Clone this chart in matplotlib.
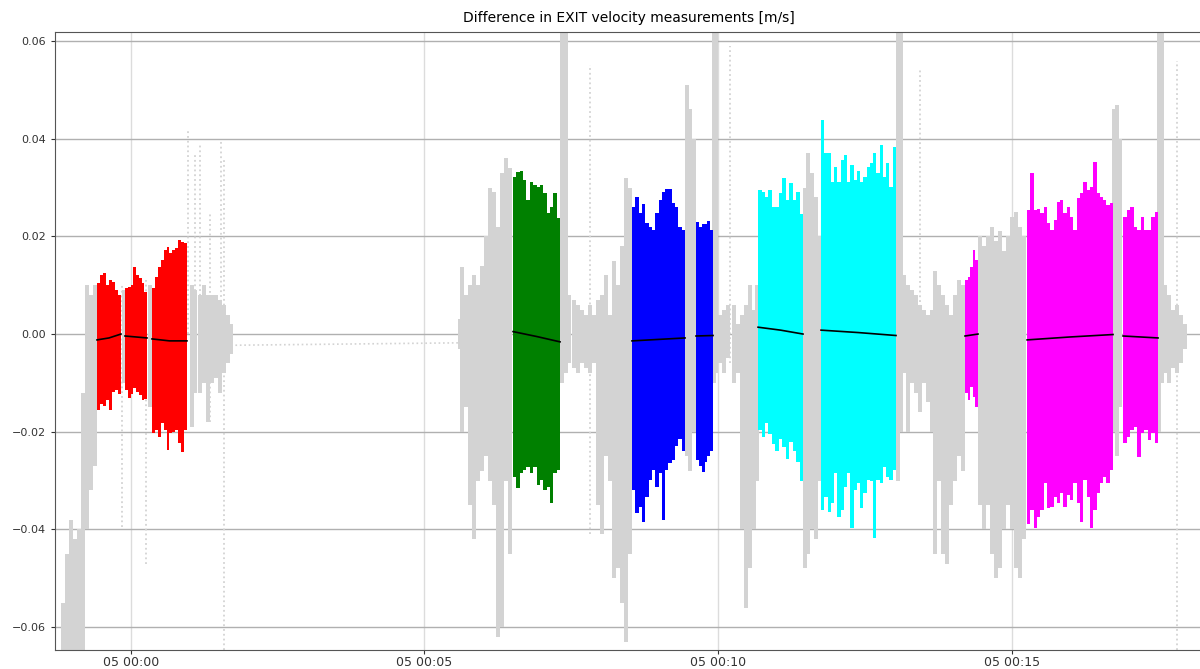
import numpy as np
import pandas as pd
import matplotlib
matplotlib.use('Agg')
import matplotlib.pyplot as plt
import matplotlib.dates as mdates

# time origin of the record (tick labels read "05 HH:MM")
T0 = pd.Timestamp('2020-01-05 00:00:00')

# ---- coloured measurement windows: (start s, end s), envelope top/bottom, mean line
red1_span = (-34.4, -9.9)
red1_top = [0.0104, 0.0121, 0.0125, 0.0100, 0.0110, 0.0106, 0.0090, 0.0080]
red1_bot = [-0.0156, -0.0143, -0.0147, -0.0136, -0.0156, -0.0118, -0.0115, -0.0122]
red1_mean = [-0.0012, -0.0008, 0.0000]

red2_span = (-5.8, 16.7)
red2_top = [0.0094, 0.0097, 0.0101, 0.0137, 0.0121, 0.0114, 0.0104, 0.0087]
red2_bot = [-0.0115, -0.0131, -0.0122, -0.0111, -0.0118, -0.0125, -0.0136, -0.0132]
red2_mean = [-0.0004, -0.0006, -0.0008]

red3_span = (21.8, 57.5)
red3_top = [0.0094, 0.0117, 0.0138, 0.0152, 0.0172, 0.0179, 0.0165, 0.0172, 0.0176, 0.0193, 0.0189, 0.0186]
red3_bot = [-0.0203, -0.0197, -0.0210, -0.0183, -0.0197, -0.0238, -0.0203, -0.0200, -0.0197, -0.0224, -0.0241, -0.0197]
red3_mean = [-0.0010, -0.0014, -0.0014]

green_span = (390.6, 438.6)
green_top = [0.0322, 0.0332, 0.0334, 0.0315, 0.0274, 0.0312, 0.0305, 0.0302, 0.0305, 0.0288, 0.0247, 0.0261, 0.0289, 0.0237]
green_bot = [-0.0292, -0.0316, -0.0285, -0.0279, -0.0272, -0.0285, -0.0272, -0.0309, -0.0299, -0.0319, -0.0313, -0.0347, -0.0285, -0.0279]
green_mean = [0.0005, -0.0005, -0.0016]

blue1_span = (512.1, 566.3)
blue1_top = [0.0261, 0.0281, 0.0247, 0.0266, 0.0227, 0.0220, 0.0213, 0.0247, 0.0274, 0.0291, 0.0298, 0.0296, 0.0268, 0.0261, 0.0220, 0.0213]
blue1_bot = [-0.0319, -0.0367, -0.0354, -0.0384, -0.0333, -0.0299, -0.0279, -0.0313, -0.0285, -0.0381, -0.0279, -0.0265, -0.0258, -0.0230, -0.0215, -0.0240]
blue1_mean = [-0.0014, -0.0011, -0.0008]

blue2_span = (577.5, 594.9)
blue2_top = [0.0230, 0.0220, 0.0225, 0.0225, 0.0232, 0.0213]
blue2_bot = [-0.0258, -0.0270, -0.0283, -0.0262, -0.0250, -0.0240]
blue2_mean = [-0.0004, -0.0003]

cyan1_span = (640.9, 686.8)
cyan1_top = [0.0295, 0.0291, 0.0281, 0.0295, 0.0261, 0.0261, 0.0288, 0.0319, 0.0274, 0.0309, 0.0274, 0.0291, 0.0245]
cyan1_bot = [-0.0197, -0.0210, -0.0182, -0.0205, -0.0225, -0.0240, -0.0215, -0.0232, -0.0255, -0.0222, -0.0240, -0.0262, -0.0300]
cyan1_mean = [0.0014, 0.0008, 0.0000]

cyan2_span = (705.2, 781.8)
cyan2_top = [0.0438, 0.0370, 0.0370, 0.0312, 0.0343, 0.0312, 0.0356, 0.0367, 0.0312, 0.0346, 0.0315, 0.0334,
             0.0312, 0.0322, 0.0343, 0.0350, 0.0370, 0.0329, 0.0387, 0.0322, 0.0350, 0.0302, 0.0384]
cyan2_bot = [-0.0360, -0.0333, -0.0364, -0.0347, -0.0285, -0.0374, -0.0360, -0.0313, -0.0285, -0.0398, -0.0319, -0.0306,
             -0.0356, -0.0326, -0.0299, -0.0300, -0.0418, -0.0299, -0.0306, -0.0272, -0.0292, -0.0299, -0.0279]
cyan2_mean = [0.0008, 0.0003, -0.0003]

mag1_span = (852.3, 865.6)
mag1_top = [0.0111, 0.0117, 0.0138, 0.0172, 0.0152]
mag1_bot = [-0.0121, -0.0135, -0.0108, -0.0128, -0.0149]
mag1_mean = [-0.0004, 0.0000]

mag2_span = (915.7, 1003.5)
mag2_top = [0.0254, 0.0329, 0.0254, 0.0257, 0.0247, 0.0261, 0.0227, 0.0213, 0.0233, 0.0271, 0.0274, 0.0247, 0.0261,
            0.0240, 0.0213, 0.0278, 0.0288, 0.0312, 0.0295, 0.0302, 0.0353, 0.0288, 0.0281, 0.0274, 0.0264, 0.0268]
mag2_bot = [-0.0388, -0.0360, -0.0398, -0.0374, -0.0360, -0.0306, -0.0357, -0.0354, -0.0333, -0.0347, -0.0326, -0.0354, -0.0330,
            -0.0340, -0.0306, -0.0347, -0.0384, -0.0299, -0.0333, -0.0398, -0.0360, -0.0326, -0.0306, -0.0292, -0.0306, -0.0279]
mag2_mean = [-0.0012, -0.0006, -0.0001]

mag3_span = (1013.7, 1049.5)
mag3_top = [0.0240, 0.0254, 0.0260, 0.0220, 0.0213, 0.0240, 0.0213, 0.0213, 0.0240, 0.0249]
mag3_bot = [-0.0224, -0.0210, -0.0197, -0.0190, -0.0251, -0.0203, -0.0197, -0.0217, -0.0203, -0.0224]
mag3_mean = [-0.0004, -0.0008]

# ---- full (grey, dotted) signal envelope outside the windows: time s, top, bottom
grey_t = [-69.2, -65.1, -61.0, -56.9, -52.8, -48.7, -44.6, -40.5, -36.4,
          -6.8, 19.7, 62.6, 65.7, 70.8, 74.9, 79.0, 83.1, 87.2, 91.2, 95.3, 99.4, 102.5,
          336.4, 338.4, 342.5, 346.6, 350.7, 354.8, 358.9, 363.0, 367.1, 371.2, 375.3, 379.3, 383.4, 387.5,
          440.7, 444.7, 447.8, 452.9, 457.0, 461.1, 465.2, 469.3, 473.4, 477.4, 481.5, 485.6, 489.7,
          493.8, 497.9, 502.0, 506.1, 510.2, 568.3, 571.4, 575.5,
          595.9, 598.0, 602.0, 606.1, 610.2, 616.3, 620.4, 624.5, 628.6, 632.7, 636.8, 639.8,
          688.9, 691.9, 696.0, 700.1, 703.2,
          783.9, 786.9, 790.0, 794.1, 798.2, 802.3, 806.3, 810.4, 814.5, 818.6, 821.7, 825.8, 829.9,
          833.9, 838.0, 842.1, 846.2, 850.3,
          867.6, 871.7, 875.8, 879.9, 884.0, 888.1, 892.2, 896.2, 900.3, 904.4, 908.5, 912.6,
          1004.5, 1007.6, 1010.7,
          1050.5, 1053.6, 1056.6, 1060.7, 1064.8, 1068.9, 1073.0, 1077.1]
grey_top = [-0.055, -0.045, -0.038, -0.042, -0.040, -0.012, 0.010, 0.008, 0.010,
            0.009, 0.010, 0.010, 0.009, 0.008, 0.010, 0.008, 0.008, 0.008, 0.007, 0.006, 0.004, 0.002,
            0.003, 0.0137, 0.008, 0.010, 0.012, 0.010, 0.014, 0.020, 0.030, 0.029, 0.022, 0.033, 0.036, 0.034,
            0.062, 0.062, 0.008, 0.007, 0.006, 0.005, 0.004, 0.006, 0.004, 0.007, 0.008, 0.012, 0.004,
            0.015, 0.010, 0.018, 0.032, 0.030, 0.051, 0.046, 0.040,
            0.062, 0.062, 0.004, 0.005, 0.006, 0.006, 0.002, 0.004, 0.006, 0.010, 0.005, 0.010,
            0.030, 0.037, 0.033, 0.028, 0.020,
            0.062, 0.062, 0.012, 0.010, 0.009, 0.008, 0.006, 0.005, 0.004, 0.005, 0.013, 0.010, 0.008,
            0.006, 0.004, 0.008, 0.011, 0.010,
            0.020, 0.018, 0.020, 0.022, 0.019, 0.021, 0.017, 0.020, 0.024, 0.025, 0.022, 0.020,
            0.046, 0.047, 0.040,
            0.062, 0.062, 0.010, 0.008, 0.005, 0.006, 0.004, 0.002]
grey_bot = [-0.0647, -0.0647, -0.0647, -0.0647, -0.0647, -0.0647, -0.040, -0.032, -0.027,
            -0.010, -0.015, -0.019, -0.012, -0.012, -0.010, -0.018, -0.010, -0.009, -0.012, -0.008, -0.006, -0.004,
            -0.003, -0.020, -0.015, -0.035, -0.042, -0.030, -0.028, -0.025, -0.030, -0.035, -0.062, -0.060, -0.030, -0.045,
            -0.010, -0.008, -0.006, -0.007, -0.008, -0.006, -0.007, -0.008, -0.006, -0.035, -0.041, -0.025, -0.030,
            -0.050, -0.048, -0.055, -0.063, -0.045, -0.025, -0.028, -0.020,
            -0.010, -0.008, -0.006, -0.008, -0.005, -0.010, -0.008, -0.040, -0.056, -0.048, -0.040, -0.030,
            -0.048, -0.045, -0.040, -0.042, -0.030,
            -0.030, -0.020, -0.008, -0.020, -0.010, -0.012, -0.016, -0.010, -0.014, -0.020, -0.045, -0.030, -0.045,
            -0.047, -0.035, -0.030, -0.025, -0.028,
            -0.035, -0.040, -0.035, -0.045, -0.050, -0.048, -0.040, -0.035, -0.040, -0.048, -0.050, -0.042,
            -0.020, -0.025, -0.015,
            -0.020, -0.010, -0.008, -0.010, -0.007, -0.008, -0.006, -0.003]

# thin isolated dotted spikes of the grey signal
spike_t = [-8.9, 15.6, 58.5, 65.7, 70.8, 81.0, 92.3, 95.3, 469.3, 612.2, 806.3, 1068.9]
spike_top = [0.010, 0.011, 0.042, 0.037, 0.039, 0.025, 0.040, 0.036, 0.055, 0.059, 0.054, 0.056]
spike_bot = [-0.0395, -0.047, 0.0, 0.0, 0.0, -0.018, -0.010, -0.0647, -0.041, -0.006, -0.016, -0.0647]

# dotted line bridging the data gap
gap_t = [102.5, 336.4]
gap_v = [-0.0023, -0.0018]


def to_num(sec):
    return mdates.date2num(T0) + np.asarray(sec, dtype=float) / 86400.0


segments = [
    (red1_span, red1_top, red1_bot, red1_mean, 'red'),
    (red2_span, red2_top, red2_bot, red2_mean, 'red'),
    (red3_span, red3_top, red3_bot, red3_mean, 'red'),
    (green_span, green_top, green_bot, green_mean, 'green'),
    (blue1_span, blue1_top, blue1_bot, blue1_mean, 'blue'),
    (blue2_span, blue2_top, blue2_bot, blue2_mean, 'blue'),
    (cyan1_span, cyan1_top, cyan1_bot, cyan1_mean, 'cyan'),
    (cyan2_span, cyan2_top, cyan2_bot, cyan2_mean, 'cyan'),
    (mag1_span, mag1_top, mag1_bot, mag1_mean, 'magenta'),
    (mag2_span, mag2_top, mag2_bot, mag2_mean, 'magenta'),
    (mag3_span, mag3_top, mag3_bot, mag3_mean, 'magenta'),
]

fig = plt.figure(figsize=(12, 6.69), dpi=100)
ax = fig.add_axes([55 / 1200, 19 / 669, 1148 / 1200, 618 / 669])

# grey full signal
gt = np.array(grey_t)
gtop = np.array(grey_top)
gbot = np.array(grey_bot)
ax.bar(to_num(gt), gtop - gbot, bottom=gbot, width=3.4 / 86400, color='lightgray',
       linewidth=0, zorder=2)
ax.vlines(to_num(spike_t), spike_bot, spike_top, colors='lightgray', linestyles=':',
          linewidth=1.3, zorder=2)
ax.plot(to_num(gap_t), gap_v, color='lightgray', linestyle=':', linewidth=1.2, zorder=2)

# coloured windows + mean lines
for (t0, t1), top, bot, mean, c in segments:
    top = np.array(top)
    bot = np.array(bot)
    n = len(top)
    w = (t1 - t0) / n
    centers = t0 + w * (np.arange(n) + 0.5)
    ax.bar(to_num(centers), top - bot, bottom=bot, width=w / 86400, color=c,
           linewidth=0, zorder=3)
    ax.plot(to_num(np.linspace(t0, t1, len(mean))), mean, color='black', linewidth=1.2, zorder=4)

ax.set_xlim(to_num(-77.3), to_num(1095.4))
ax.set_ylim(-0.0647, 0.06185)
ax.set_yticks([-0.06, -0.04, -0.02, 0.0, 0.02, 0.04, 0.06])
ax.xaxis.set_major_locator(mdates.MinuteLocator(byminute=range(0, 60, 5)))
ax.xaxis.set_major_formatter(mdates.DateFormatter('%d %H:%M'))

ax.set_axisbelow(True)
ax.grid(axis='y', color='#b0b0b0', linewidth=1.0)
ax.grid(axis='x', color='#dcdcdc', linewidth=1.0)
for s in ax.spines.values():
    s.set_color('#555555')
ax.tick_params(labelsize=8, colors='#333333', length=3)
ax.tick_params(axis='x', labelsize=9, pad=1.5)

ax.set_title('Difference in EXIT velocity measurements [m/s]', fontsize=10, pad=7)

fig.savefig('out.png', dpi=100)
